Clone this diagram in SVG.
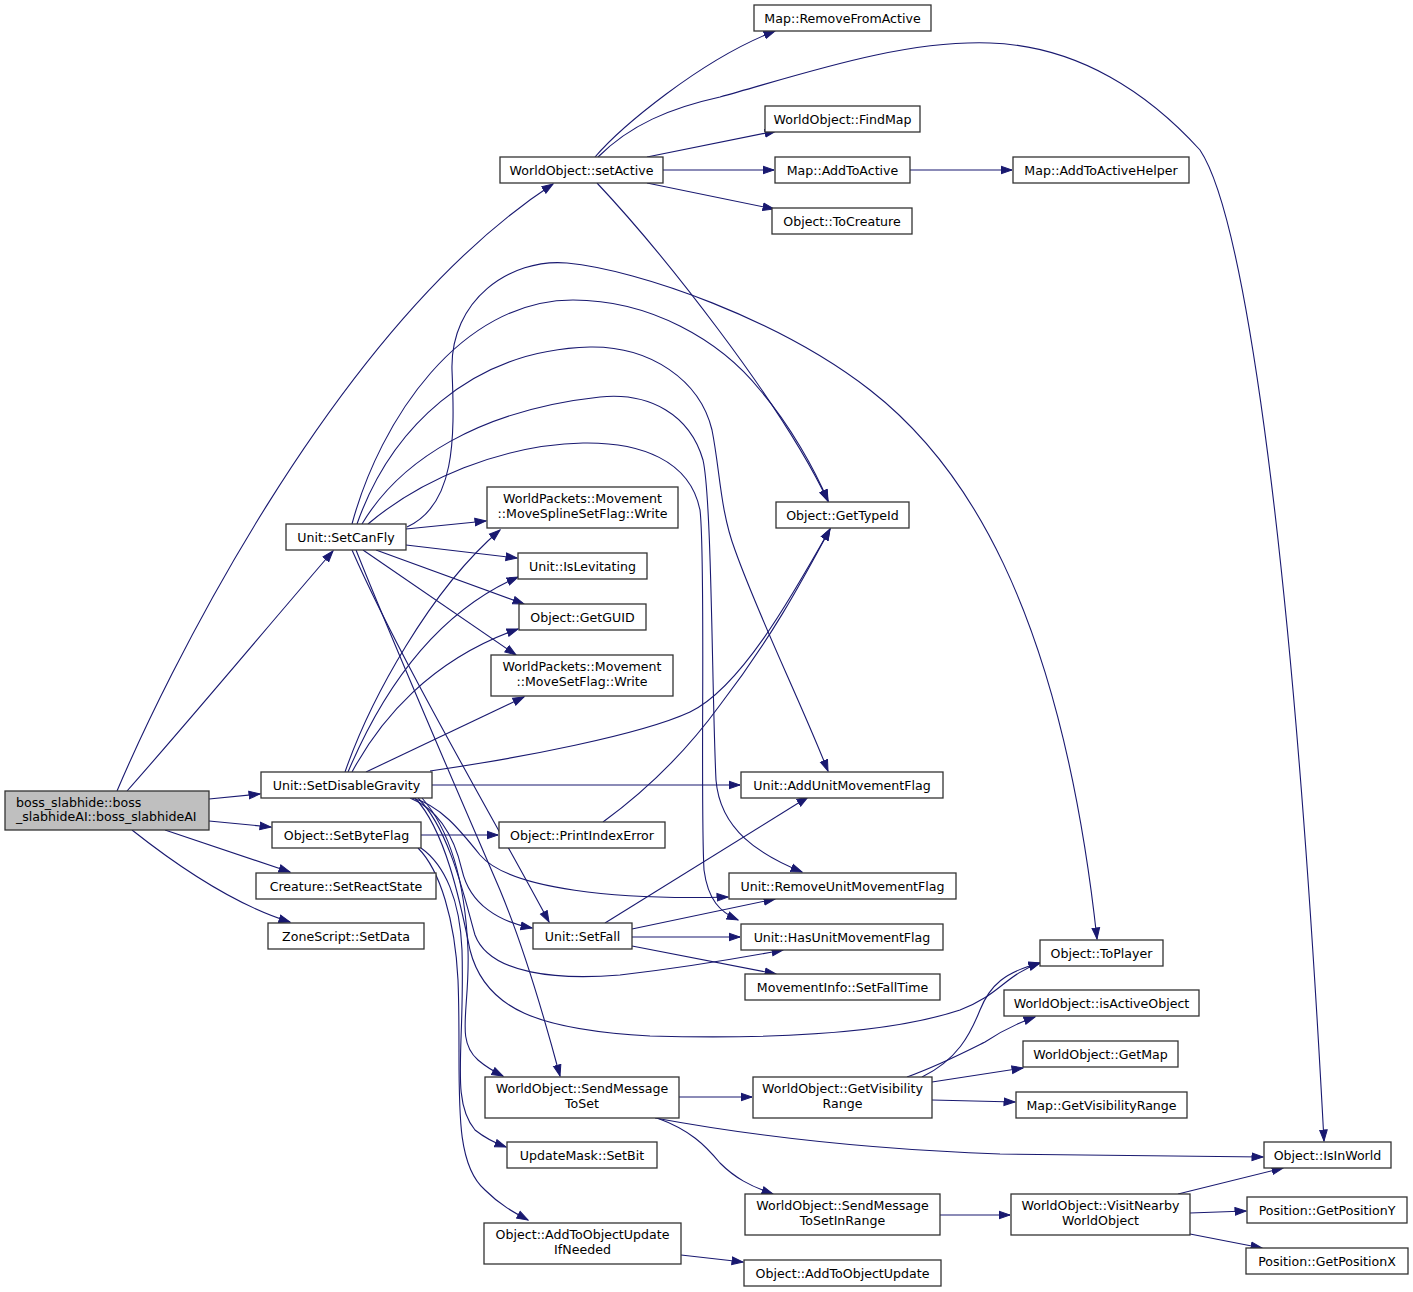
<svg xmlns="http://www.w3.org/2000/svg" width="1413" height="1292" viewBox="0 0 1413 1292">
<style>
.n rect{fill:#fff;stroke:#333;stroke-width:1.3}
.r rect{fill:#bfbfbf;stroke:#333;stroke-width:1.3}
text{font-family:"DejaVu Sans",sans-serif;font-size:12.6px;fill:#000;text-anchor:middle}
.r text{text-anchor:start}
#edges path{fill:none;stroke:#191970;stroke-width:1.1;marker-end:url(#a)}
</style>
<defs>
<marker id="a" markerWidth="13" markerHeight="10" refX="11.5" refY="5" orient="auto" markerUnits="userSpaceOnUse">
<path d="M0.5,1.2 L11.5,5 L0.5,8.8 z" fill="#191970" stroke="#191970" stroke-width="1"/>
</marker>
</defs>
<rect width="1413" height="1292" fill="#fff"/>
<g id="edges">
<path d="M117,791 C160,690 330,330 553,184"/>
<path d="M127,791 C190,720 280,612 333,551"/>
<path d="M209,799 L260,794"/>
<path d="M209,821 L271,827"/>
<path d="M165,830 L290,872"/>
<path d="M132,830 C180,868 235,905 290,922"/>
<path d="M595,157 C620,128 700,60 775,31"/>
<path d="M598,157 C630,125 670,108 720,97 C800,75 900,40 990,43 C1080,46 1150,95 1200,150 C1240,210 1290,500 1324,1141"/>
<path d="M647,157 L776,131"/>
<path d="M663,170 L774,170"/>
<path d="M647,183 L774,209"/>
<path d="M597,183 C660,250 780,400 828,501"/>
<path d="M910,170 L1012,170"/>
<path d="M406,529 L486,521"/>
<path d="M406,545 L517,558"/>
<path d="M376,550 L524,604"/>
<path d="M363,550 L516,655"/>
<path d="M352,550 C400,660 500,830 549,922"/>
<path d="M356,550 C400,660 470,820 500,890 C525,950 545,1020 560,1076"/>
<path d="M407,527 C455,505 455,440 452,370 C450,300 510,258 567,263 C640,270 780,320 870,390 C960,460 1060,600 1097,939"/>
<path d="M352,524 C380,420 460,300 573,300 C650,300 720,340 760,390 C790,425 815,470 828,501"/>
<path d="M357,524 C390,430 470,350 590,347 C650,346 700,380 712,430 C720,470 720,510 735,550 C760,620 800,700 828,771"/>
<path d="M362,524 C400,460 480,410 600,397 C650,392 690,415 703,460 C712,500 712,700 716,780 C720,830 760,855 802,872"/>
<path d="M368,524 C420,480 500,445 583,443 C640,442 690,460 700,510 C706,560 700,800 704,870 C708,900 720,912 738,920"/>
<path d="M432,785 L740,785"/>
<path d="M430,771 C520,758 640,735 690,712 C740,688 790,600 830,529"/>
<path d="M366,772 L524,697"/>
<path d="M352,772 C380,720 430,660 518,629"/>
<path d="M348,772 C370,720 420,620 518,577"/>
<path d="M345,772 C370,700 430,590 500,530"/>
<path d="M410,798 C440,810 455,840 462,870 C470,905 500,922 532,928"/>
<path d="M412,798 C440,805 460,830 480,855 C510,890 620,900 728,897"/>
<path d="M418,798 C450,830 465,900 475,935 C490,975 560,980 620,975 C680,968 740,958 783,950"/>
<path d="M415,798 C445,830 460,900 470,950 C485,1010 540,1030 650,1036 C800,1040 900,1030 960,1010 C1000,995 1005,975 1040,963"/>
<path d="M422,798 C450,830 465,880 468,950 C470,1010 455,1040 478,1060 C485,1066 495,1072 503,1076"/>
<path d="M421,835 L498,835"/>
<path d="M421,848 C445,865 460,900 462,950 C465,1050 450,1100 475,1130 C485,1138 495,1143 506,1147"/>
<path d="M418,848 C440,870 455,920 458,980 C462,1080 450,1160 485,1190 C500,1205 515,1213 528,1220"/>
<path d="M605,923 L808,797"/>
<path d="M632,929 L775,899"/>
<path d="M632,937 L740,937"/>
<path d="M632,946 L776,974"/>
<path d="M603,822 C640,795 680,760 720,705 C770,640 800,585 830,529"/>
<path d="M922,1077 C957,1060 970,1035 980,1010 C990,985 1005,972 1040,963"/>
<path d="M907,1077 C940,1065 965,1052 985,1042 C1000,1032 1015,1024 1035,1017"/>
<path d="M932,1082 L1023,1068"/>
<path d="M932,1100 L1015,1102"/>
<path d="M679,1097 L752,1097"/>
<path d="M655,1118 C720,1130 830,1148 1000,1154 L1263,1157"/>
<path d="M657,1118 C690,1130 705,1145 720,1163 C735,1178 750,1186 773,1194"/>
<path d="M940,1215 L1010,1215"/>
<path d="M1178,1194 L1283,1168"/>
<path d="M1190,1213 L1246,1211"/>
<path d="M1190,1234 L1262,1248"/>
<path d="M681,1255 L743,1262"/>
</g>
<g id="boss" class="r"><rect x="5" y="791" width="204" height="39"/><text x="16" y="807">boss_slabhide::boss</text><text x="16" y="821">_slabhideAI::boss_slabhideAI</text></g>
<g id="setActive" class="n"><rect x="500" y="157" width="163" height="26"/><text x="581.5" y="175">WorldObject::setActive</text></g>
<g id="RemoveFromActive" class="n"><rect x="754" y="5" width="177" height="26"/><text x="842.5" y="23">Map::RemoveFromActive</text></g>
<g id="FindMap" class="n"><rect x="765" y="106" width="155" height="26"/><text x="842.5" y="124">WorldObject::FindMap</text></g>
<g id="AddToActive" class="n"><rect x="775" y="157" width="135" height="26"/><text x="842.5" y="175">Map::AddToActive</text></g>
<g id="AddToActiveHelper" class="n"><rect x="1013" y="157" width="176" height="26"/><text x="1101" y="175">Map::AddToActiveHelper</text></g>
<g id="ToCreature" class="n"><rect x="772" y="208" width="140" height="26"/><text x="842" y="226">Object::ToCreature</text></g>
<g id="GetTypeId" class="n"><rect x="776" y="502" width="133" height="26"/><text x="842.5" y="520">Object::GetTypeId</text></g>
<g id="MoveSplineSetFlagWrite" class="n"><rect x="487" y="487" width="191" height="41"/><text x="582.5" y="503">WorldPackets::Movement</text><text x="582.5" y="518">::MoveSplineSetFlag::Write</text></g>
<g id="SetCanFly" class="n"><rect x="286" y="524" width="120" height="26"/><text x="346" y="542">Unit::SetCanFly</text></g>
<g id="IsLevitating" class="n"><rect x="518" y="553" width="129" height="26"/><text x="582.5" y="571">Unit::IsLevitating</text></g>
<g id="GetGUID" class="n"><rect x="519" y="604" width="127" height="26"/><text x="582.5" y="622">Object::GetGUID</text></g>
<g id="MoveSetFlagWrite" class="n"><rect x="491" y="655" width="182" height="41"/><text x="582" y="671">WorldPackets::Movement</text><text x="582" y="686">::MoveSetFlag::Write</text></g>
<g id="SetDisableGravity" class="n"><rect x="261" y="772" width="171" height="26"/><text x="346.5" y="790">Unit::SetDisableGravity</text></g>
<g id="AddUnitMovementFlag" class="n"><rect x="741" y="772" width="202" height="26"/><text x="842" y="790">Unit::AddUnitMovementFlag</text></g>
<g id="SetByteFlag" class="n"><rect x="272" y="822" width="149" height="26"/><text x="346.5" y="840">Object::SetByteFlag</text></g>
<g id="PrintIndexError" class="n"><rect x="499" y="822" width="166" height="26"/><text x="582" y="840">Object::PrintIndexError</text></g>
<g id="SetReactState" class="n"><rect x="256" y="873" width="180" height="26"/><text x="346" y="891">Creature::SetReactState</text></g>
<g id="RemoveUnitMovementFlag" class="n"><rect x="729" y="873" width="227" height="26"/><text x="842.5" y="891">Unit::RemoveUnitMovementFlag</text></g>
<g id="SetData" class="n"><rect x="268" y="923" width="156" height="26"/><text x="346" y="941">ZoneScript::SetData</text></g>
<g id="SetFall" class="n"><rect x="533" y="923" width="99" height="26"/><text x="582.5" y="941">Unit::SetFall</text></g>
<g id="HasUnitMovementFlag" class="n"><rect x="741" y="924" width="202" height="26"/><text x="842" y="942">Unit::HasUnitMovementFlag</text></g>
<g id="SetFallTime" class="n"><rect x="745" y="974" width="195" height="26"/><text x="842.5" y="992">MovementInfo::SetFallTime</text></g>
<g id="ToPlayer" class="n"><rect x="1040" y="940" width="123" height="26"/><text x="1101.5" y="958">Object::ToPlayer</text></g>
<g id="isActiveObject" class="n"><rect x="1004" y="990" width="195" height="26"/><text x="1101.5" y="1008">WorldObject::isActiveObject</text></g>
<g id="GetMap" class="n"><rect x="1023" y="1041" width="155" height="26"/><text x="1100.5" y="1059">WorldObject::GetMap</text></g>
<g id="SendMessageToSet" class="n"><rect x="485" y="1077" width="194" height="41"/><text x="582" y="1093">WorldObject::SendMessage</text><text x="582" y="1108">ToSet</text></g>
<g id="GetVisibilityRange" class="n"><rect x="753" y="1077" width="179" height="41"/><text x="842.5" y="1093">WorldObject::GetVisibility</text><text x="842.5" y="1108">Range</text></g>
<g id="MapGetVisibilityRange" class="n"><rect x="1016" y="1092" width="171" height="26"/><text x="1101.5" y="1110">Map::GetVisibilityRange</text></g>
<g id="SetBit" class="n"><rect x="507" y="1142" width="150" height="26"/><text x="582" y="1160">UpdateMask::SetBit</text></g>
<g id="IsInWorld" class="n"><rect x="1264" y="1142" width="127" height="26"/><text x="1327.5" y="1160">Object::IsInWorld</text></g>
<g id="SendMessageToSetInRange" class="n"><rect x="745" y="1194" width="195" height="41"/><text x="842.5" y="1210">WorldObject::SendMessage</text><text x="842.5" y="1225">ToSetInRange</text></g>
<g id="VisitNearbyWorldObject" class="n"><rect x="1011" y="1194" width="179" height="41"/><text x="1100.5" y="1210">WorldObject::VisitNearby</text><text x="1100.5" y="1225">WorldObject</text></g>
<g id="GetPositionY" class="n"><rect x="1247" y="1197" width="160" height="26"/><text x="1327" y="1215">Position::GetPositionY</text></g>
<g id="GetPositionX" class="n"><rect x="1246" y="1248" width="162" height="26"/><text x="1327" y="1266">Position::GetPositionX</text></g>
<g id="AddToObjectUpdateIfNeeded" class="n"><rect x="484" y="1223" width="197" height="41"/><text x="582.5" y="1239">Object::AddToObjectUpdate</text><text x="582.5" y="1254">IfNeeded</text></g>
<g id="AddToObjectUpdate" class="n"><rect x="744" y="1260" width="197" height="26"/><text x="842.5" y="1278">Object::AddToObjectUpdate</text></g>
</svg>
